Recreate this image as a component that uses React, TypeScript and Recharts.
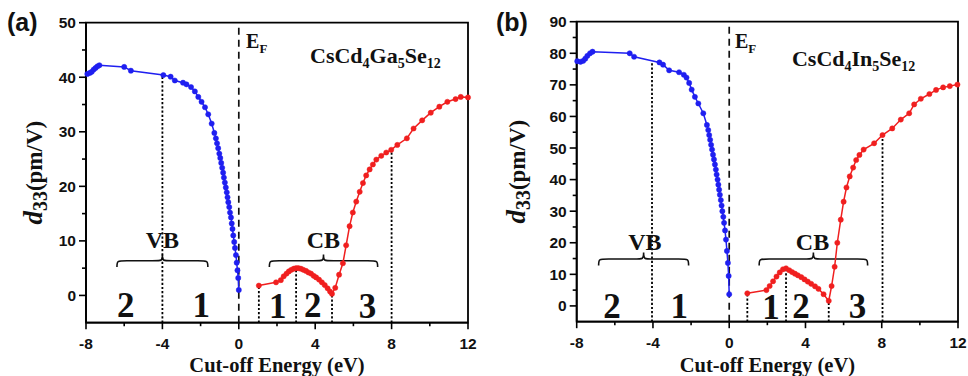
import React from 'react';
import { LineChart, Line, XAxis, YAxis, ReferenceLine, ReferenceArea, ReferenceDot } from 'recharts';

const SERIF = '"Liberation Serif", "Times New Roman", serif';
const SANS = '"Liberation Sans", Arial, sans-serif';
const BLUE = '#1f1ff0';
const RED = '#f01f1f';

// ---- Panel (a): CsCd4Ga5Se12 ----
const vbEnergyA = [-7.93, -7.8, -7.7, -7.6, -7.5, -7.4, -7.3, -6.0, -5.65, -3.95, -3.57, -3.35, -2.92, -2.74, -2.5, -2.3, -2.12, -1.95, -1.77, -1.6, -1.42, -1.28, -1.2, -1.14, -1.08, -1.02, -0.97, -0.92, -0.87, -0.82, -0.78, -0.73, -0.68, -0.63, -0.59, -0.55, -0.5, -0.46, -0.41, -0.37, -0.33, -0.29, -0.24, -0.2, -0.15, -0.11, -0.07, -0.03, 0];
const vbD33A = [40.6, 40.8, 41.0, 41.4, 41.7, 42.0, 42.2, 41.9, 41.2, 40.4, 40.1, 39.4, 39.0, 38.7, 38.2, 37.4, 36.4, 35.5, 34.5, 33.2, 31.5, 29.8, 28.8, 27.9, 27.0, 26.0, 25.2, 24.3, 23.4, 22.5, 21.6, 20.7, 19.8, 18.9, 18.0, 17.1, 16.2, 15.2, 14.3, 13.2, 12.2, 11.0, 9.8, 8.7, 7.4, 6.0, 4.6, 3.2, 1.0];
const cbEnergyA = [1.05, 1.95, 2.2, 2.35, 2.5, 2.62, 2.75, 2.88, 3.0, 3.12, 3.25, 3.38, 3.52, 3.65, 3.78, 3.92, 4.05, 4.2, 4.35, 4.5, 4.65, 4.78, 4.88, 5.05, 5.25, 5.45, 5.62, 5.8, 5.97, 6.15, 6.33, 6.5, 6.67, 6.85, 7.02, 7.2, 7.46, 7.72, 7.98, 8.3, 8.8, 9.15, 9.6, 10.05, 10.5, 10.92, 11.35, 11.62, 12.0];
const cbD33A = [1.8, 2.4, 2.8, 3.5, 4.0, 4.4, 4.7, 4.9, 5.0, 5.0, 4.9, 4.7, 4.5, 4.2, 4.0, 3.6, 3.3, 2.9, 2.4, 1.9, 1.3, 0.7, 0.3, 1.4, 3.8, 5.9, 9.2, 12.7, 15.2, 17.2, 19.0, 20.6, 22.0, 23.1, 24.0, 24.9, 25.6, 26.2, 26.7, 27.6, 28.8, 30.6, 32.1, 33.5, 34.6, 35.5, 36.0, 36.4, 36.3];

// ---- Panel (b): CsCd4In5Se12 ----
const vbEnergyB = [-7.97, -7.8, -7.66, -7.55, -7.44, -7.3, -7.17, -5.22, -4.99, -3.66, -3.47, -3.15, -2.63, -2.38, -2.24, -2.1, -1.97, -1.8, -1.62, -1.36, -1.17, -1.1, -1.05, -1.0, -0.95, -0.9, -0.85, -0.8, -0.75, -0.7, -0.66, -0.61, -0.57, -0.53, -0.49, -0.44, -0.4, -0.36, -0.31, -0.27, -0.22, -0.17, -0.12, -0.07, -0.03, 0];
const vbD33B = [77.5, 77.3, 77.6, 78.3, 79.2, 80.0, 80.5, 80.0, 78.9, 77.1, 76.4, 74.6, 74.0, 73.2, 72.3, 70.6, 68.5, 66.2, 64.1, 61.0, 57.3, 55.7, 54.1, 52.6, 51.0, 49.5, 47.9, 46.4, 44.8, 43.2, 41.6, 40.0, 38.4, 36.8, 35.2, 33.5, 31.8, 30.0, 28.2, 26.3, 23.9, 21.0, 17.4, 13.6, 9.5, 3.7];
const cbEnergyB = [0.95, 1.95, 2.12, 2.3, 2.48, 2.65, 2.82, 2.98, 3.15, 3.3, 3.45, 3.6, 3.78, 3.95, 4.12, 4.3, 4.5, 4.68, 4.95, 5.22, 5.37, 5.53, 5.67, 5.85, 6.0, 6.15, 6.32, 6.5, 6.66, 6.83, 7.05, 7.6, 8.04, 8.55, 9.0, 9.44, 9.7, 10.05, 10.5, 10.85, 11.22, 11.57, 11.97];
const cbD33B = [4.0, 5.0, 6.3, 7.8, 9.3, 10.6, 11.6, 11.9, 11.3, 10.7, 10.2, 9.7, 9.1, 8.4, 7.7, 7.0, 6.2, 5.4, 3.7, 1.6, 6.3, 12.4, 20.0, 27.3, 33.0, 37.5, 41.0, 43.8, 46.2, 47.8, 49.5, 51.5, 54.1, 56.2, 59.0, 61.0, 63.8, 65.6, 67.1, 68.4, 69.2, 69.6, 70.1];

// Axis ticks
const xTicks = [-8, -6, -4, -2, 0, 2, 4, 6, 8, 10, 12];
const yTicksA = [0, 5, 10, 15, 20, 25, 30, 35, 40, 45, 50];
const yTicksB = [0, 5, 10, 15, 20, 25, 30, 35, 40, 45, 50, 55, 60, 65, 70, 75, 80, 85, 90];

// Dotted guide lines: [energy, top of the guide]
const guidesA = [[-4, 40.4], [1.05, 1.8], [3.0, 5.0], [4.88, 0.3], [8.0, 26.6]];
const guidesB = [[-4.05, 77.0], [0.95, 4.0], [2.98, 11.9], [5.22, 1.6], [8.04, 54.1]];

// Region braces: [from, to, bottom, top]
const bracesA = [[-6.38, -1.62, 5.2, 7.5], [1.6, 7.27, 5.2, 7.5]];
const bracesB = [[-6.85, -2.13, 12.8, 16.9], [1.57, 7.26, 12.8, 16.9]];

// Band labels: [text, energy, d33]
const bandLabelsA = [['VB', -4.0, 8.7], ['CB', 4.43, 8.7]];
const bandLabelsB = [['VB', -4.42, 17.7], ['CB', 4.37, 17.7]];

// Region numbers: [text, energy, d33 baseline]
const regionsA = [['2', -5.92, -3.9], ['1', -1.97, -3.9], ['1', 2.04, -4.1], ['2', 3.87, -4.0], ['3', 6.74, -4.1]];
const regionsB = [['2', -6.15, -3.9], ['1', -2.62, -3.9], ['1', 2.19, -4.0], ['2', 3.76, -3.9], ['3', 6.73, -3.9]];

const zip = (xs: number[], ys: number[]) => xs.map((x, i) => ({ x, y: ys[i] }));

const XTick = (props: any) => {
  const { x, y, payload } = props;
  const v = payload.value;
  const major = v % 4 === 0;
  return (
    <g>
      <line x1={x} y1={y} x2={x} y2={y + (major ? 6.5 : 3.5)} stroke="#000" strokeWidth={1.6} />
      {major && (
        <text x={x} y={y + 26} textAnchor="middle" fontFamily={SANS} fontWeight="bold" fontSize={15.5} fill="#111">
          {v}
        </text>
      )}
    </g>
  );
};

const YTick = (props: any) => {
  const { x, y, payload } = props;
  const v = payload.value;
  const major = v % 10 === 0;
  return (
    <g>
      <line x1={x} y1={y} x2={x - (major ? 7 : 4)} y2={y} stroke="#000" strokeWidth={1.6} />
      {major && (
        <text x={x - 10} y={y} dy="0.36em" textAnchor="end" fontFamily={SANS} fontWeight="bold" fontSize={15.5} fill="#111">
          {v}
        </text>
      )}
    </g>
  );
};

const YTitle = (props: any) => {
  const { viewBox, dx } = props;
  const cx = viewBox.x + dx;
  const cy = viewBox.y + viewBox.height / 2;
  return (
    <text transform={`translate(${cx},${cy}) rotate(-90)`} textAnchor="middle" fontFamily={SERIF} fontWeight="bold" fontSize={23} fill="#111">
      <tspan fontStyle="italic" fontSize={27}>d</tspan>
      <tspan fontSize={20} dy={5}>33</tspan>
      <tspan dy={-5}>(pm/V)</tspan>
    </text>
  );
};

const XTitle = (props: any) => {
  const { viewBox } = props;
  const cx = viewBox.x + viewBox.width / 2;
  return (
    <text x={cx} y={371.5} textAnchor="middle" fontFamily={SERIF} fontWeight="bold" fontSize={20.5} fill="#111">
      Cut-off Energy (eV)
    </text>
  );
};

const Brace = (props: any) => {
  const { x, y, width: w, height: h } = props;
  const cx = x + w / 2;
  const m = y + h * 0.5;
  const r = 10;
  const d = `M ${x} ${y + h} C ${x} ${m} ${x} ${m} ${x + r} ${m} L ${cx - r} ${m} C ${cx} ${m} ${cx} ${m} ${cx} ${y} C ${cx} ${m} ${cx} ${m} ${cx + r} ${m} L ${x + w - r} ${m} C ${x + w} ${m} ${x + w} ${m} ${x + w} ${y + h}`;
  return <path d={d} fill="none" stroke="#111" strokeWidth={1.6} />;
};

const plainText = (text: string, size: number, anchor: string) => (p: any) => (
  <text x={p.cx} y={p.cy} textAnchor={anchor} fontFamily={SERIF} fontWeight="bold" fontSize={size} fill="#111">
    {text}
  </text>
);

const fermiText = (p: any) => (
  <text x={p.cx} y={p.cy} fontFamily={SERIF} fontWeight="bold" fontSize={20} fill="#111">
    E<tspan fontSize={13} dy={5}>F</tspan>
  </text>
);

const formulaText = (parts: string[]) => (p: any) => (
  <text x={p.cx} y={p.cy} fontFamily={SERIF} fontWeight="bold" fontSize={22} fill="#111">
    {parts.map((s, i) =>
      i % 2 === 0 ? (
        <tspan key={i} fontSize={22} dy={i === 0 ? 0 : -5}>{s}</tspan>
      ) : (
        <tspan key={i} fontSize={14} dy={5}>{s}</tspan>
      )
    )}
  </text>
);

type PanelProps = {
  left: number;
  width: number;
  margin: { top: number; right: number; left: number; bottom: number };
  yAxisWidth: number;
  xAxisHeight: number;
  yMax: number;
  yTicks: number[];
  vb: { x: number; y: number }[];
  cb: { x: number; y: number }[];
  guides: number[][];
  braces: number[][];
  bandLabels: (string | number)[][];
  regions: (string | number)[][];
  fermiAt: number[];
  formula: string[];
  formulaAt: number[];
  titleDx: number;
};

function Panel(p: PanelProps) {
  return (
    <div style={{ position: 'absolute', left: p.left, top: 0 }}>
      <LineChart width={p.width} height={376} margin={p.margin}>
        <XAxis
          type="number"
          dataKey="x"
          domain={[-8, 12]}
          ticks={xTicks}
          interval={0}
          tick={<XTick />}
          tickLine={false}
          tickSize={0}
          tickMargin={0}
          height={p.xAxisHeight}
          axisLine={{ stroke: '#000', strokeWidth: 1.8 }}
          label={<XTitle />}
        />
        <YAxis
          type="number"
          domain={[-5, p.yMax]}
          ticks={p.yTicks}
          interval={0}
          tick={<YTick />}
          tickLine={false}
          tickSize={0}
          tickMargin={0}
          width={p.yAxisWidth}
          axisLine={{ stroke: '#000', strokeWidth: 1.8 }}
          label={<YTitle dx={p.titleDx} />}
        />
        <ReferenceArea x1={-8} x2={12} y1={-5} y2={p.yMax} fill="none" stroke="#000" strokeWidth={1.8} />
        <ReferenceLine x={0} stroke="#111" strokeWidth={1.7} strokeDasharray="7 5" />
        {p.guides.map(([gx, gy], i) => (
          <ReferenceLine
            key={`g${i}`}
            segment={[{ x: gx, y: -5 }, { x: gx, y: gy }]}
            stroke="#000"
            strokeWidth={1.8}
            strokeDasharray="2.2 2"
          />
        ))}
        {p.braces.map(([x1, x2, y1, y2], i) => (
          <ReferenceArea key={`b${i}`} x1={x1} x2={x2} y1={y1} y2={y2} shape={<Brace />} />
        ))}
        {p.bandLabels.map(([t, bx, by], i) => (
          <ReferenceDot key={`l${i}`} x={bx as number} y={by as number} r={0} shape={plainText(t as string, 24, 'middle')} />
        ))}
        {p.regions.map(([t, rx, ry], i) => (
          <ReferenceDot key={`r${i}`} x={rx as number} y={ry as number} r={0} shape={plainText(t as string, 35, 'middle')} />
        ))}
        <ReferenceDot x={p.fermiAt[0]} y={p.fermiAt[1]} r={0} shape={fermiText} />
        <ReferenceDot x={p.formulaAt[0]} y={p.formulaAt[1]} r={0} shape={formulaText(p.formula)} />
        <Line
          data={p.vb}
          dataKey="y"
          stroke={BLUE}
          strokeWidth={1.5}
          dot={{ r: 2.6, fill: BLUE, stroke: BLUE, strokeWidth: 0.5 }}
          activeDot={false}
          isAnimationActive={false}
        />
        <Line
          data={p.cb}
          dataKey="y"
          stroke={RED}
          strokeWidth={1.5}
          dot={{ r: 2.6, fill: RED, stroke: RED, strokeWidth: 0.5 }}
          activeDot={false}
          isAnimationActive={false}
        />
      </LineChart>
    </div>
  );
}

export default function App() {
  return (
    <div style={{ position: 'absolute', left: 0, top: 0, width: 968, height: 376, background: '#fff', overflow: 'hidden' }}>
      <Panel
        left={0}
        width={480}
        margin={{ top: 22.7, right: 12, left: 0, bottom: 0 }}
        yAxisWidth={86}
        xAxisHeight={53.3}
        yMax={50}
        yTicks={yTicksA}
        vb={zip(vbEnergyA, vbD33A)}
        cb={zip(cbEnergyA, cbD33A)}
        guides={guidesA}
        braces={bracesA}
        bandLabels={bandLabelsA}
        regions={regionsA}
        fermiAt={[0.38, 45.4]}
        formula={['CsCd', '4', 'Ga', '5', 'Se', '12']}
        formulaAt={[3.73, 42.6]}
        titleDx={42}
      />
      <Panel
        left={480}
        width={488}
        margin={{ top: 21.7, right: 10, left: 0, bottom: 0 }}
        yAxisWidth={96.7}
        xAxisHeight={54.3}
        yMax={90}
        yTicks={yTicksB}
        vb={zip(vbEnergyB, vbD33B)}
        cb={zip(cbEnergyB, cbD33B)}
        guides={guidesB}
        braces={bracesB}
        bandLabels={bandLabelsB}
        regions={regionsB}
        fermiAt={[0.3, 81.6]}
        formula={['CsCd', '4', 'In', '5', 'Se', '12']}
        formulaAt={[3.29, 75.9]}
        titleDx={45}
      />
      <svg width={968} height={60} style={{ position: 'absolute', left: 0, top: 0, pointerEvents: 'none' }}>
        <text x={7} y={31} fontFamily={SANS} fontWeight="bold" fontSize={25} fill="#111">(a)</text>
        <text x={496} y={31} fontFamily={SANS} fontWeight="bold" fontSize={25} fill="#111">(b)</text>
      </svg>
    </div>
  );
}
